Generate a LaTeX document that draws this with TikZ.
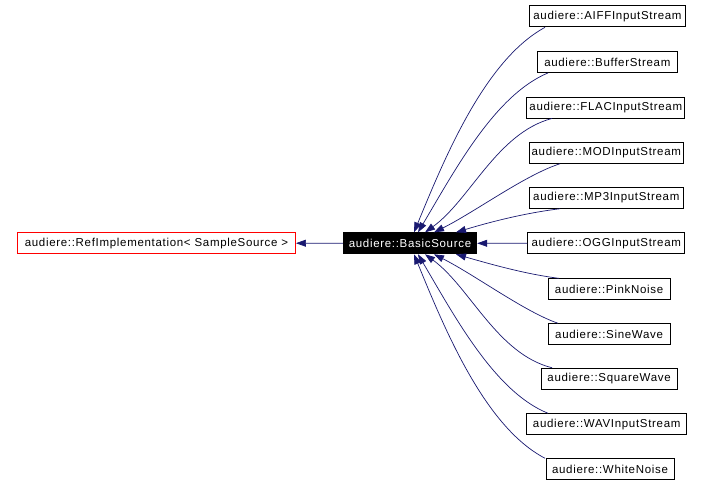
\documentclass[tikz,border=0pt]{standalone}
\usepackage{fontspec}
\newfontfamily\lab[LetterSpace=6]{Liberation Sans}
\usetikzlibrary{arrows.meta}
\definecolor{edgeblue}{RGB}{25,25,112}
\tikzset{
  cls/.style={draw=black, line width=0.9pt, minimum height=21pt, inner sep=0pt,
    font=\lab\fontsize{11.5}{13}\selectfont},
  inh/.style={draw=edgeblue, line width=0.7pt,
    -{Triangle[length=10pt,width=7pt,fill=edgeblue]}},
}
\begin{document}
\begin{tikzpicture}[x=1pt,y=-1pt]
\useasboundingbox (0,0) rectangle (705,487);
\node[cls, draw=red, minimum width=278pt] (ref) at (156.5,243.2) {audiere::RefImplementation< SampleSource >};
\node[cls, fill=black, text=white, minimum width=133.5pt] (basic) at (410,243.3) {audiere::BasicSource};
\node[cls, minimum width=156pt] (aiff) at (607.5,16.4) {audiere::AIFFInputStream};
\node[cls, minimum width=140pt] (buffer) at (607.3,62) {audiere::BufferStream};
\node[cls, minimum width=158pt] (flac) at (605.8,107.5) {audiere::FLACInputStream};
\node[cls, minimum width=154pt] (mod) at (606.3,152.8) {audiere::MODInputStream};
\node[cls, minimum width=154pt] (mp3) at (606.3,197.8) {audiere::MP3InputStream};
\node[cls, minimum width=157pt] (ogg) at (606.3,243.2) {audiere::OGGInputStream};
\node[cls, minimum width=122pt] (pink) at (609.1,289.3) {audiere::PinkNoise};
\node[cls, minimum width=122pt] (sine) at (609.1,334.2) {audiere::SineWave};
\node[cls, minimum width=136pt] (square) at (609.1,378.7) {audiere::SquareWave};
\node[cls, minimum width=160pt] (wav) at (606.7,424.2) {audiere::WAVInputStream};
\node[cls, minimum width=128pt] (white) at (610,469.2) {audiere::WhiteNoise};

\draw[inh] (basic.west) -- (ref.east);
\draw[inh] (ogg.west) -- (basic.east);

\draw[inh] (545,0 |- aiff.south) .. controls (485,60) and (445,157) .. (414,0 |- basic.north);
\draw[inh] (548,0 |- buffer.south) .. controls (495,95) and (455,170) .. (418,0 |- basic.north);
\draw[inh] (552,0 |- flac.south) .. controls (497,133) and (470,200) .. (425,0 |- basic.north);
\draw[inh] (560,0 |- mod.south) .. controls (525,175) and (475,212) .. (434,0 |- basic.north);
\draw[inh] (560,0 |- mp3.south) .. controls (525,213) and (490,222) .. (456,0 |- basic.north);

\draw[inh] (559,0 |- pink.north) .. controls (525,274) and (490,264) .. (456,0 |- basic.south);
\draw[inh] (558,0 |- sine.north) .. controls (525,312) and (475,275) .. (434,0 |- basic.south);
\draw[inh] (552,0 |- square.north) .. controls (497,354) and (470,287) .. (425,0 |- basic.south);
\draw[inh] (548,0 |- wav.north) .. controls (495,392) and (455,317) .. (418,0 |- basic.south);
\draw[inh] (545,0 |- white.north) .. controls (485,427) and (445,330) .. (414,0 |- basic.south);
\end{tikzpicture}
\end{document}
